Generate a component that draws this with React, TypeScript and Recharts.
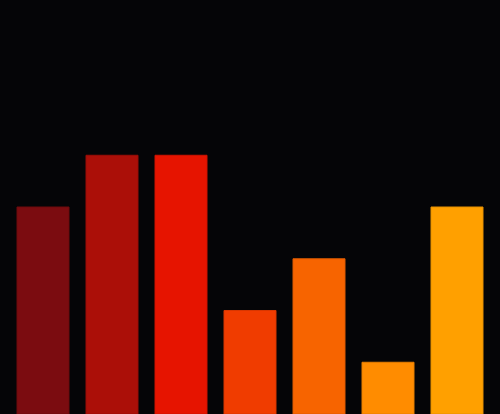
import { BarChart, Bar, XAxis, YAxis, Cell } from 'recharts';

const categories = ['A', 'B', 'C', 'D', 'E', 'F', 'G'];
const values = [4, 5, 5, 2, 3, 1, 4];
const colors = ['#7b0c10', '#ab0f08', '#e61400', '#f03c00', '#f76400', '#ff8c00', '#ffa000'];
const strokes = ['#6e0a0d', '#9a0d07', '#cf1200', '#d83600', '#de5a00', '#e67e00', '#e69000'];

const data = categories.map((c, i) => ({ name: c, value: values[i] }));

export default function App() {
  return (
    <div style={{
      position: 'fixed',
      top: 0,
      left: 0,
      width: 500,
      height: 414,
      background: '#050507',
    }}>
      <BarChart
        width={500}
        height={414}
        data={data}
        margin={{ top: 0, right: 8.5, bottom: 0, left: 8.5 }}
        barCategoryGap={8.5}
      >
        <XAxis dataKey="name" hide />
        <YAxis domain={[0, 8]} hide />
        <Bar dataKey="value" isAnimationActive={false} strokeWidth={1}>
          {data.map((d, i) => (
            <Cell key={d.name} fill={colors[i]} stroke={strokes[i]} />
          ))}
        </Bar>
      </BarChart>
    </div>
  );
}
